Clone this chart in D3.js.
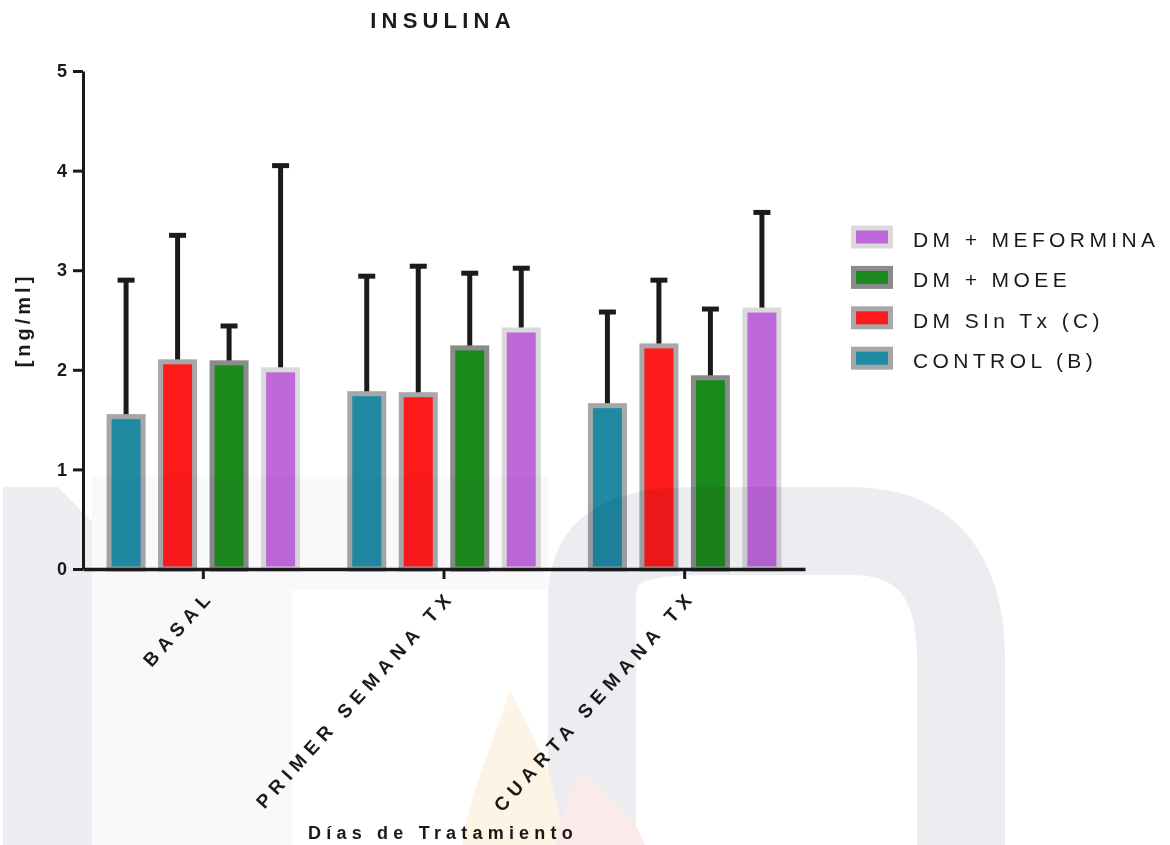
<!DOCTYPE html>
<html>
<head>
<meta charset="utf-8">
<script src="https://cdn.jsdelivr.net/npm/d3@7"></script>
<style>
  html, body { margin: 0; padding: 0; background: #ffffff; }
  svg { display: block; }
  text { font-family: "Liberation Sans", Arial, sans-serif; fill: #1a1a1a; }
</style>
</head>
<body>
<svg id="chart" width="1170" height="845"></svg>
<script>
// Treatment days (x categories)
const categories = ["BASAL", "PRIMER SEMANA TX", "CUARTA SEMANA TX"];

// Groups, in drawing order inside each day
const seriesNames = ["CONTROL (B)", "DM SIn Tx (C)", "DM + MOEE", "DM + MEFORMINA"];

// Mean insulin [ng/ml] per day, one array per group
const controlB     = [1.53, 1.76, 1.64];
const dmSinTx      = [2.08, 1.75, 2.24];
const dmMoee       = [2.07, 2.22, 1.92];
const dmMetformina = [2.00, 2.40, 2.60];

// Upper error (SD) per day, one array per group
const controlBErr     = [1.37, 1.18, 0.94];
const dmSinTxErr      = [1.27, 1.29, 0.66];
const dmMoeeErr       = [0.37, 0.75, 0.69];
const dmMetforminaErr = [2.05, 0.62, 0.98];

const yTicks = [0, 1, 2, 3, 4, 5];

const means = [controlB, dmSinTx, dmMoee, dmMetformina];
const errors = [controlBErr, dmSinTxErr, dmMoeeErr, dmMetforminaErr];
const fills   = ["#1f8aa2", "#fe191b", "#1b8a1c", "#bf68da"];
const borders = ["#a7a7aa", "#a8a8aa", "#8b8b8b", "#dadada"];

const svg = d3.select("#chart");

const x = d3.scaleBand().domain(categories).range([83, 805]).padding(0);
const xSub = d3.scaleBand().domain(seriesNames)
  .range([-103, 103]).paddingInner(0.34).paddingOuter(0.17);
const y = d3.scaleLinear().domain([0, 5]).range([569, 71]);

// One record per bar
const rows = [];
categories.forEach((c, ci) => {
  seriesNames.forEach((s, si) => {
    rows.push({ cat: c, series: s, si, value: means[si][ci], err: errors[si][ci] });
  });
});
const barCenter = d => x(d.cat) + x.bandwidth() / 2 + xSub(d.series) + xSub.bandwidth() / 2;

// Error bars (upper only)
const eb = svg.append("g").attr("stroke", "#1b1b1b").attr("stroke-width", 5);
eb.selectAll("line.v").data(rows).join("line")
  .attr("class", "v")
  .attr("x1", d => barCenter(d)).attr("x2", d => barCenter(d))
  .attr("y1", d => y(d.value)).attr("y2", d => y(d.value + d.err));
eb.selectAll("line.cap").data(rows).join("line")
  .attr("class", "cap")
  .attr("x1", d => barCenter(d) - 8.5).attr("x2", d => barCenter(d) + 8.5)
  .attr("y1", d => y(d.value + d.err)).attr("y2", d => y(d.value + d.err));

// Bars with grey borders
svg.append("g").selectAll("rect").data(rows).join("rect")
  .attr("x", d => barCenter(d) - xSub.bandwidth() / 2)
  .attr("width", xSub.bandwidth())
  .attr("y", d => y(d.value))
  .attr("height", d => y(0) - y(d.value))
  .attr("fill", d => fills[d.si])
  .attr("stroke", d => borders[d.si])
  .attr("stroke-width", 5);

// Y axis
const yAxis = svg.append("g")
  .attr("transform", "translate(83,0)")
  .call(d3.axisLeft(y).tickValues(yTicks).tickFormat(d3.format("d"))
    .tickSize(10).tickSizeOuter(0).tickPadding(6));
yAxis.select(".domain").attr("stroke", "#1a1a1a").attr("stroke-width", 3);
yAxis.selectAll(".tick line").attr("stroke", "#1a1a1a").attr("stroke-width", 3);
yAxis.selectAll(".tick text")
  .attr("font-size", 18).attr("font-weight", "bold")
  .attr("font-family", "'Liberation Sans', Arial, sans-serif")
  .attr("fill", "#1a1a1a");

// X axis
const xAxis = svg.append("g")
  .attr("transform", "translate(0,569)")
  .call(d3.axisBottom(x).tickSize(10).tickSizeOuter(0));
xAxis.select(".domain").attr("stroke", "#1a1a1a").attr("stroke-width", 3.5);
xAxis.selectAll(".tick line").attr("stroke", "#1a1a1a").attr("stroke-width", 3);
xAxis.selectAll(".tick text")
  .attr("font-size", 19).attr("font-weight", "bold")
  .attr("font-family", "'Liberation Sans', Arial, sans-serif")
  .attr("fill", "#1a1a1a")
  .attr("letter-spacing", 6)
  .attr("text-anchor", "end")
  .attr("y", 0).attr("dy", 0)
  .attr("transform", "translate(12,28) rotate(-48)");

// Title
svg.append("text")
  .attr("x", 443).attr("y", 28)
  .attr("text-anchor", "middle")
  .attr("font-size", 22).attr("font-weight", "bold")
  .attr("letter-spacing", 5.2)
  .text("INSULINA");

// Axis titles
svg.append("text")
  .attr("transform", "translate(30,320) rotate(-90)")
  .attr("text-anchor", "middle")
  .attr("font-size", 20).attr("font-weight", "bold")
  .attr("letter-spacing", 4)
  .text("[ng/ml]");

svg.append("text")
  .attr("x", 443).attr("y", 839)
  .attr("text-anchor", "middle")
  .attr("font-size", 18).attr("font-weight", "bold")
  .attr("letter-spacing", 5.2)
  .text("Días de Tratamiento");

// Legend (top entry = last series)
const legendOrder = seriesNames.map((s, i) => i).reverse();
const legend = svg.append("g").attr("transform", "translate(851,237)");
const item = legend.selectAll("g").data(legendOrder).join("g")
  .attr("transform", (d, i) => `translate(0,${i * 40.4})`);
item.append("rect")
  .attr("x", 2.5).attr("y", -9).attr("width", 37).attr("height", 18)
  .attr("fill", d => fills[d]).attr("stroke", d => borders[d]).attr("stroke-width", 5);
item.append("text")
  .attr("x", 62).attr("y", 10)
  .attr("font-size", 21)
  .attr("letter-spacing", 4.4)
  .text(d => seriesNames[d]);

// Faint background watermark, multiplied over the plot
const wm = svg.append("g").style("mix-blend-mode", "multiply").attr("pointer-events", "none");
wm.append("path")
  .attr("d", "M3,487 L58,487 L92,522 L92,845 L3,845 Z")
  .attr("fill", "#eeeef2");
wm.append("rect").attr("x", 92).attr("y", 477).attr("width", 200).attr("height", 368)
  .attr("fill", "#f9f9fb");
wm.append("rect").attr("x", 292).attr("y", 477).attr("width", 256).attr("height", 113)
  .attr("fill", "#f9f9fb");
wm.append("path")
  .attr("d", "M592,845 L592,600 C592,545 630,531 700,531 L850,531 C930,531 961,580 961,660 L961,845")
  .attr("fill", "none").attr("stroke", "#ececf1").attr("stroke-width", 88);
wm.append("path")
  .attr("d", "M510,690 C530,730 560,780 562,845 L462,845 C470,790 495,740 510,690 Z")
  .attr("fill", "#fef4e6");
wm.append("path")
  .attr("d", "M582,770 C605,795 635,815 645,845 L556,845 C560,815 572,790 582,770 Z")
  .attr("fill", "#fbeaea");
</script>
</body>
</html>
